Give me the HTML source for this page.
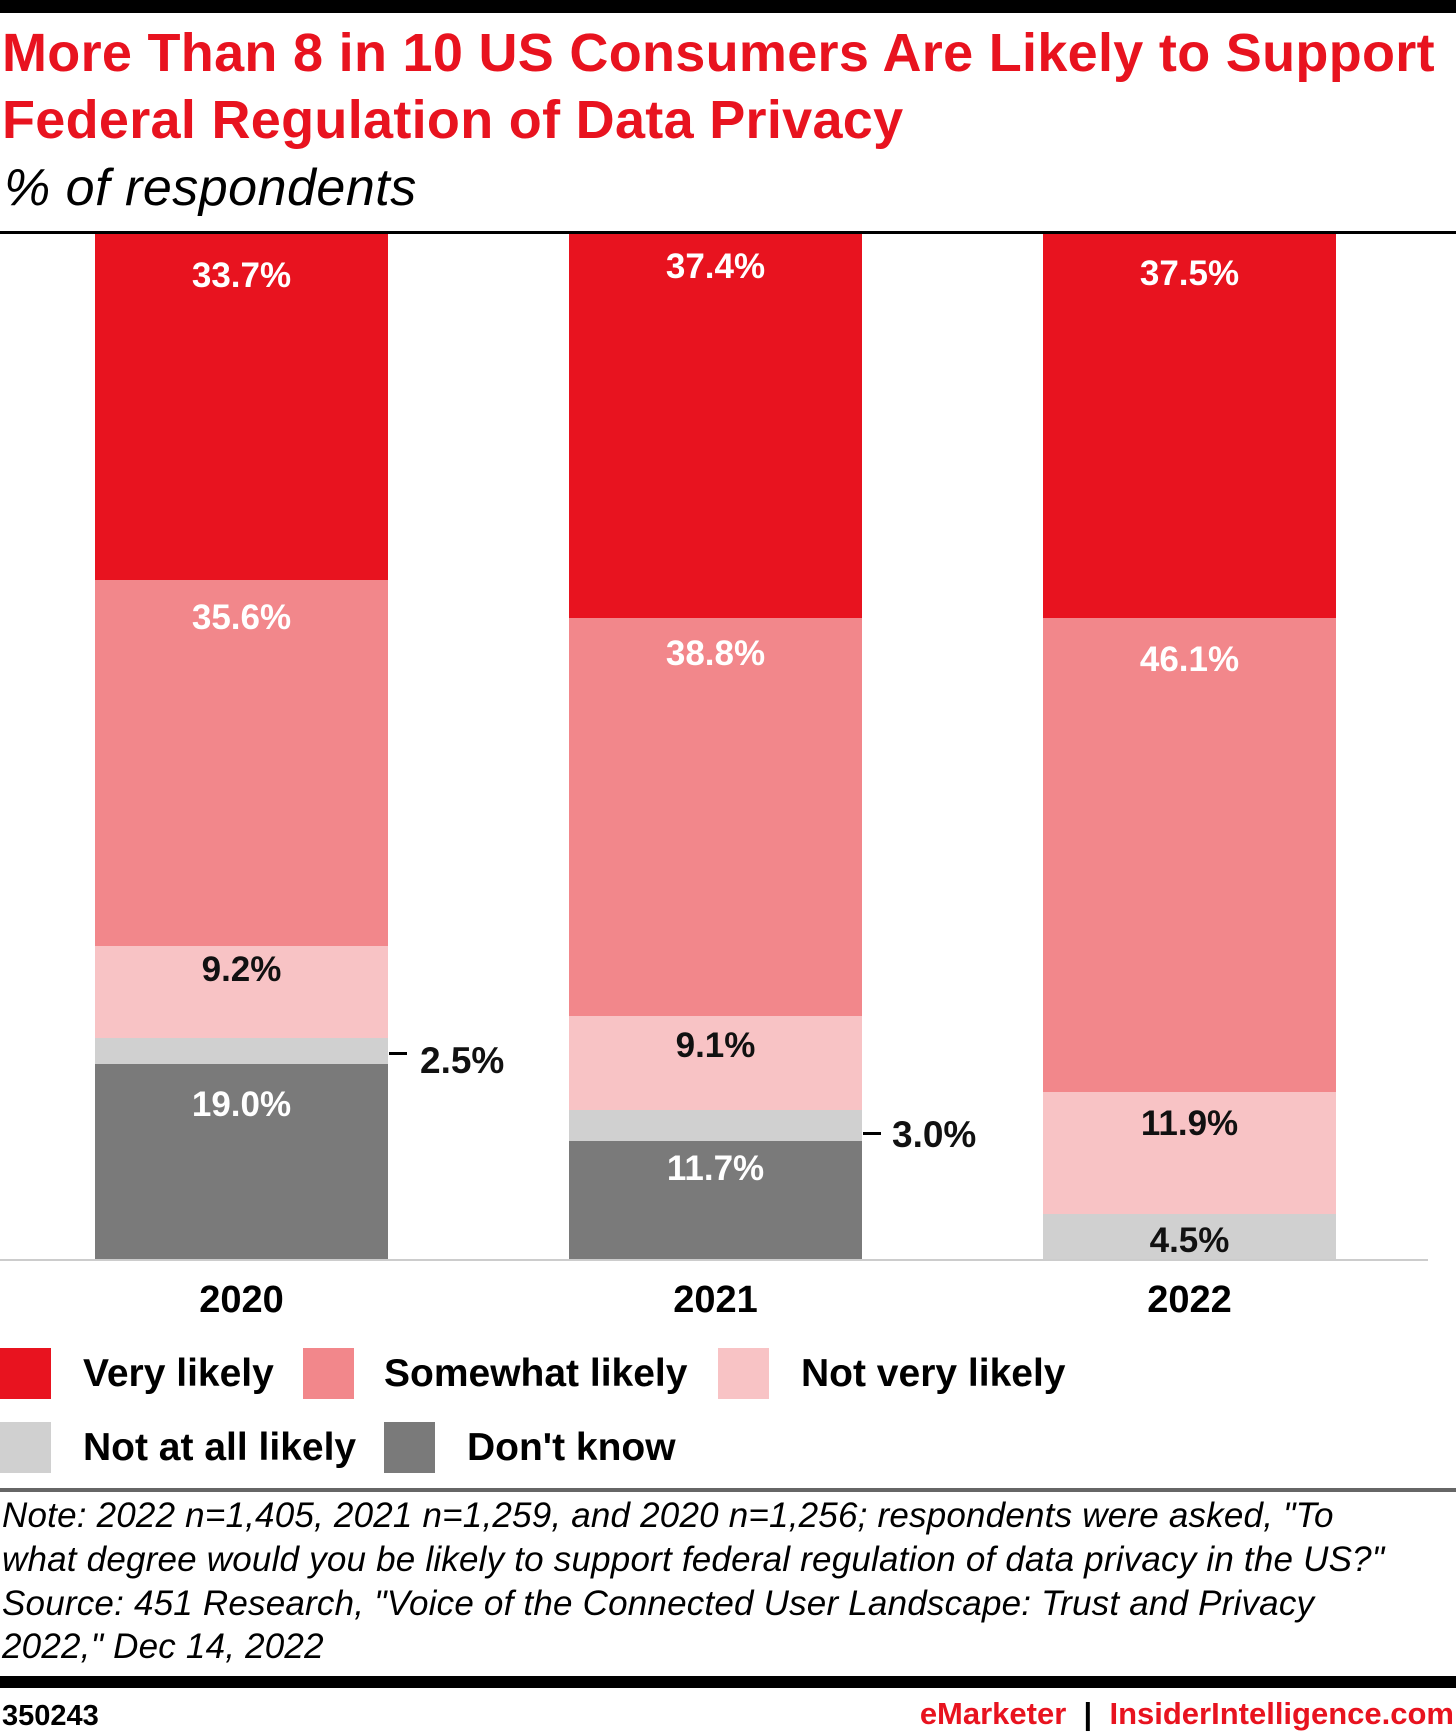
<!DOCTYPE html><html><head><style>
body{margin:0;width:1456px;height:1733px;background:#fff;position:relative;font-family:"Liberation Sans",sans-serif;overflow:hidden}
div{position:absolute}
.t{color:#e8131f;font-weight:bold;font-size:54px;left:2px;letter-spacing:0.3px;white-space:nowrap}
.l{font-weight:bold;font-size:35px;width:293px;text-align:center;line-height:40px}
.w{color:#fff}.k{color:#111}
.y{font-weight:bold;font-size:38px;width:293px;text-align:center;top:1279px}
.sw{width:51px;height:51px}
.lg{font-weight:bold;font-size:39px;line-height:51px;white-space:nowrap}
.n{font-style:italic;font-size:35px;left:2px;white-space:nowrap;line-height:44px;letter-spacing:0.2px}
</style></head><body>
<div style="left:0;top:0;width:1456px;height:13px;background:#000"></div>
<div class="t" style="top:22px">More Than 8 in 10 US Consumers Are Likely to Support</div>
<div class="t" style="top:89px">Federal Regulation of Data Privacy</div>
<div style="left:4px;top:158px;font-size:52px;font-style:italic;letter-spacing:0.5px">% of respondents</div>
<div style="left:0;top:231px;width:1456px;height:3px;background:#000"></div>

<div style="left:95px;top:234px;width:293px;height:346px;background:#e8131f"></div>
<div style="left:95px;top:580px;width:293px;height:366px;background:#f2878b"></div>
<div style="left:95px;top:946px;width:293px;height:92px;background:#f8c3c5"></div>
<div style="left:95px;top:1038px;width:293px;height:26px;background:#d0d0d0"></div>
<div style="left:95px;top:1064px;width:293px;height:196px;background:#7a7a7a"></div>

<div style="left:569px;top:234px;width:293px;height:384px;background:#e8131f"></div>
<div style="left:569px;top:618px;width:293px;height:398px;background:#f2878b"></div>
<div style="left:569px;top:1016px;width:293px;height:94px;background:#f8c3c5"></div>
<div style="left:569px;top:1110px;width:293px;height:31px;background:#d0d0d0"></div>
<div style="left:569px;top:1141px;width:293px;height:119px;background:#7a7a7a"></div>

<div style="left:1043px;top:234px;width:293px;height:384px;background:#e8131f"></div>
<div style="left:1043px;top:618px;width:293px;height:474px;background:#f2878b"></div>
<div style="left:1043px;top:1092px;width:293px;height:122px;background:#f8c3c5"></div>
<div style="left:1043px;top:1214px;width:293px;height:46px;background:#d0d0d0"></div>

<div style="left:0;top:1259px;width:1428px;height:2px;background:#ccc"></div>

<div class="l w" style="left:95px;top:256px">33.7%</div>
<div class="l w" style="left:95px;top:598px">35.6%</div>
<div class="l k" style="left:95px;top:950px">9.2%</div>
<div class="l w" style="left:95px;top:1085px">19.0%</div>
<div class="l w" style="left:569px;top:247px">37.4%</div>
<div class="l w" style="left:569px;top:634px">38.8%</div>
<div class="l k" style="left:569px;top:1026px">9.1%</div>
<div class="l w" style="left:569px;top:1149px">11.7%</div>
<div class="l w" style="left:1043px;top:254px">37.5%</div>
<div class="l w" style="left:1043px;top:640px">46.1%</div>
<div class="l k" style="left:1043px;top:1104px">11.9%</div>
<div class="l k" style="left:1043px;top:1221px">4.5%</div>

<div style="left:389px;top:1052px;width:18px;height:3px;background:#000"></div>
<div class="l k" style="left:420px;top:1041px;width:auto;font-size:37px">2.5%</div>
<div style="left:863px;top:1132px;width:18px;height:3px;background:#000"></div>
<div class="l k" style="left:892px;top:1115px;width:auto;font-size:37px">3.0%</div>

<div class="y" style="left:95px">2020</div>
<div class="y" style="left:569px">2021</div>
<div class="y" style="left:1043px">2022</div>

<div class="sw" style="left:0;top:1348px;background:#e8131f"></div><div class="lg" style="left:83px;top:1348px">Very likely</div>
<div class="sw" style="left:303px;top:1348px;background:#f2878b"></div><div class="lg" style="left:384px;top:1348px">Somewhat likely</div>
<div class="sw" style="left:718px;top:1348px;background:#f8c3c5"></div><div class="lg" style="left:801px;top:1348px">Not very likely</div>
<div class="sw" style="left:0;top:1422px;background:#d0d0d0"></div><div class="lg" style="left:83px;top:1422px">Not at all likely</div>
<div class="sw" style="left:384px;top:1422px;background:#7a7a7a"></div><div class="lg" style="left:467px;top:1422px">Don't know</div>

<div style="left:0;top:1488px;width:1456px;height:4px;background:#666"></div>
<div class="n" style="top:1494px">Note: 2022 n=1,405, 2021 n=1,259, and 2020 n=1,256; respondents were asked, "To</div>
<div class="n" style="top:1538px">what degree would you be likely to support federal regulation of data privacy in the US?"</div>
<div class="n" style="top:1582px">Source: 451 Research, "Voice of the Connected User Landscape: Trust and Privacy</div>
<div class="n" style="top:1625px">2022," Dec 14, 2022</div>
<div style="left:0;top:1676px;width:1456px;height:12px;background:#000"></div>
<div style="left:2px;top:1700px;font-size:29px;font-weight:bold">350243</div>
<div style="right:2px;top:1696px;font-size:31px;font-weight:bold;white-space:nowrap"><span style="color:#e8131f">eMarketer</span> <span style="color:#000">&nbsp;|&nbsp;</span> <span style="color:#e8131f">InsiderIntelligence.com</span></div>
</body></html>
